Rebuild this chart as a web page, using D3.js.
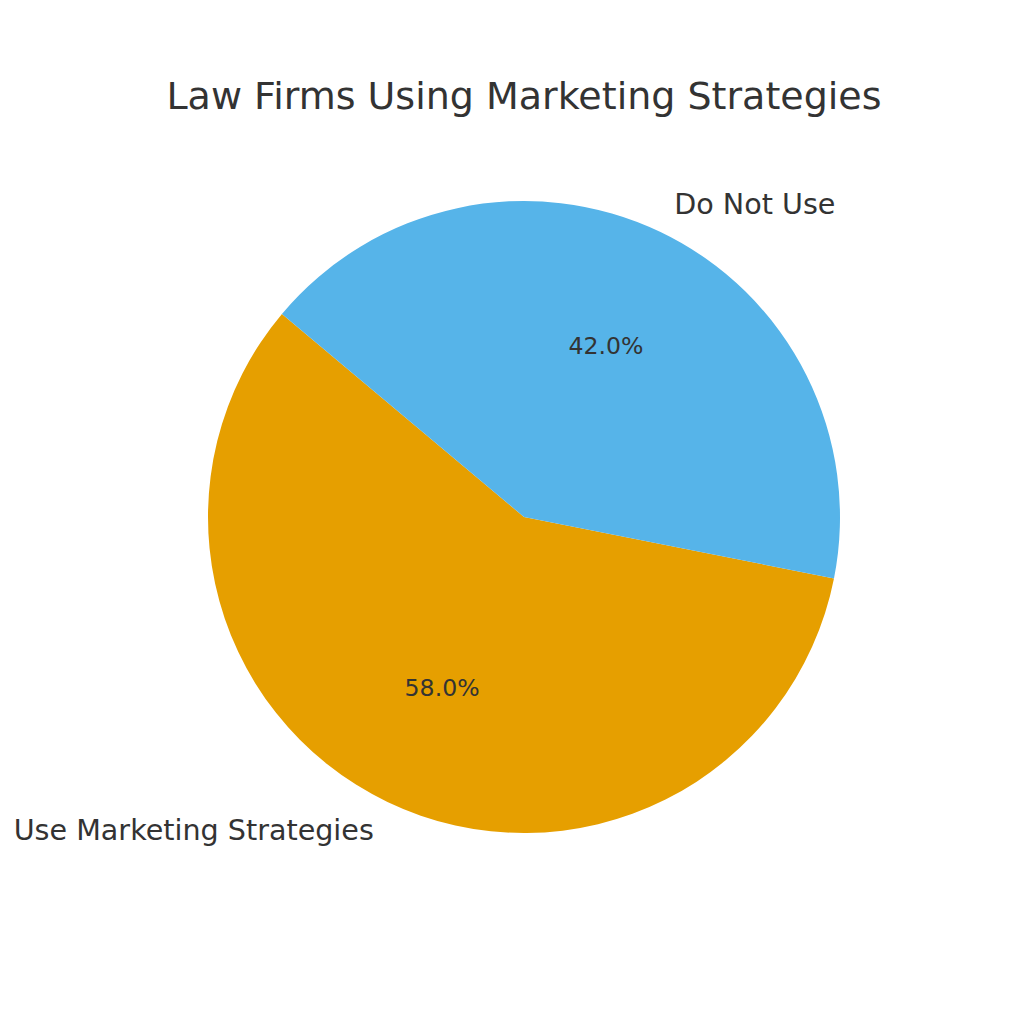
<!DOCTYPE html>
<html><head><meta charset="utf-8">
<script src="https://cdn.jsdelivr.net/npm/d3@7"></script>
<style>body{margin:0;background:#fff}svg{display:block}text{font-family:"DejaVu Sans",sans-serif;fill:#333333}</style>
</head><body>
<svg id="c" width="1024" height="1024"></svg>
<script>
const categories = ["Use Marketing Strategies", "Do Not Use"];
const values = [58, 42];
const colors = ["#E69F00", "#56B4E9"];
const title = "Law Firms Using Marketing Strategies";

const svg = d3.select("#c");
const cx = 524, cy = 517, r = 316;
const startDeg = 140;

svg.append("text").attr("x", 524).attr("y", 109).attr("text-anchor", "middle")
  .style("font-size", "38px").text(title);

const data = categories.map((c, i) => ({ c, v: values[i], col: colors[i] }));
const total = d3.sum(values);
const toD3 = deg => (90 - deg) * Math.PI / 180;
let acc = startDeg;
const slices = data.map(d => {
  const a0 = acc, a1 = acc + d.v / total * 360;
  acc = a1;
  return { ...d, a0, a1 };
});
const arc = d3.arc().innerRadius(0).outerRadius(r);
const g = svg.append("g").attr("transform", `translate(${cx},${cy})`);
g.selectAll("path").data(slices).join("path")
  .attr("d", d => arc({ startAngle: toD3(d.a1), endAngle: toD3(d.a0) }))
  .attr("fill", d => d.col);

slices.forEach(d => {
  const mid = (d.a0 + d.a1) / 2 * Math.PI / 180;
  const lx = 1.1 * r * Math.cos(mid), ly = -1.1 * r * Math.sin(mid);
  g.append("text").attr("x", lx).attr("y", ly).attr("dy", "0.35em")
    .attr("text-anchor", lx < 0 ? "end" : "start")
    .style("font-size", "28.6px").text(d.c);
  const px = 0.6 * r * Math.cos(mid), py = -0.6 * r * Math.sin(mid);
  g.append("text").attr("x", px).attr("y", py).attr("dy", "0.35em")
    .attr("text-anchor", "middle")
    .style("font-size", "23.6px").text(d3.format(".1f")(d.v / total * 100) + "%");
});
</script>
</body></html>
